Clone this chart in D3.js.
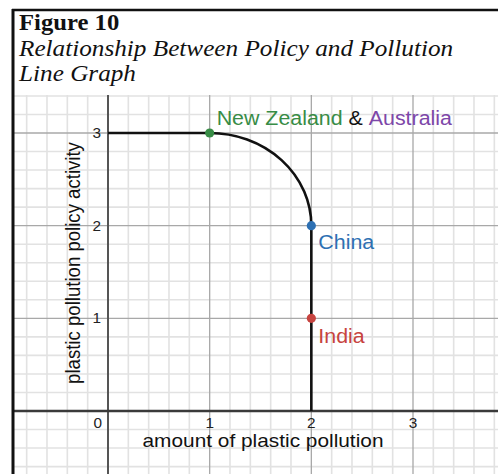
<!DOCTYPE html>
<html>
<head>
<meta charset="utf-8">
<script src="https://cdn.jsdelivr.net/npm/d3@7"></script>
<style>
  body { margin: 0; background: #fff; }
  svg { display: block; }
</style>
</head>
<body>
<div id="wrapper"></div>
<script>
// data
const xTickValues = [1, 2, 3]
const yTickValues = [1, 2, 3]
const originLabel = "0"

// line: straight, quarter ellipse, straight
const curvePoints = [[0, 3], [1, 3], [2, 2], [2, 0]]
const curveSegments = ["line", "arc", "line"]

const pointNames = ["New Zealand", "China", "India"]
const pointX = [1, 2, 2]
const pointY = [3, 2, 1]
const pointColors = ["#388c46", "#2d70b3", "#c74440"]

const titleLines = ["Figure 10", "Relationship Between Policy and Pollution", "Line Graph"]
const xAxisTitle = "amount of plastic pollution"
const yAxisTitle = "plastic pollution policy activity"

// 1. dimensions
const width = 498
const height = 474
const stretch = 1.097   // picture is stretched sideways
const plot = { left: 14, top: 95, right: 498, bottom: 474 }

const svg = d3.select("#wrapper")
  .append("svg")
    .attr("width", width)
    .attr("height", height)

const x = d3.scaleLinear().domain([0, 3]).range([108, 413])
const y = d3.scaleLinear().domain([0, 3]).range([411, 133])

const sText = (sel, px, py) => sel.attr("transform", `translate(${px},${py}) scale(${stretch},1)`)

// 2. grid
svg.append("clipPath").attr("id", "plot-clip")
  .append("rect")
    .attr("x", plot.left).attr("y", plot.top)
    .attr("width", plot.right - plot.left).attr("height", plot.bottom - plot.top)

const grid = svg.append("g").attr("clip-path", "url(#plot-clip)")
const xMin = x.invert(plot.left), xMax = x.invert(plot.right)
const yMin = y.invert(plot.bottom), yMax = y.invert(plot.top)
const minorX = d3.range(Math.ceil(xMin * 5), Math.floor(xMax * 5) + 1).map(i => i / 5)
const minorY = d3.range(Math.ceil(yMin * 5), Math.floor(yMax * 5) + 1).map(i => i / 5)

grid.selectAll(".minor-x").data(minorX.filter(d => Math.abs(d - Math.round(d)) > 1e-6))
  .join("line")
    .attr("x1", d => x(d)).attr("x2", d => x(d))
    .attr("y1", plot.top).attr("y2", plot.bottom)
    .attr("stroke", "#e2e2e2").attr("stroke-width", 1.6)
grid.selectAll(".minor-y").data(minorY.filter(d => Math.abs(d - Math.round(d)) > 1e-6))
  .join("line")
    .attr("y1", d => y(d)).attr("y2", d => y(d))
    .attr("x1", plot.left).attr("x2", plot.right)
    .attr("stroke", "#e2e2e2").attr("stroke-width", 1.6)

grid.selectAll(".major-x").data(minorX.filter(d => Math.abs(d - Math.round(d)) < 1e-6 && d !== 0))
  .join("line")
    .attr("x1", d => x(d)).attr("x2", d => x(d))
    .attr("y1", plot.top).attr("y2", plot.bottom)
    .attr("stroke", "#a8a8a8").attr("stroke-width", 1.3)
grid.selectAll(".major-y").data(minorY.filter(d => Math.abs(d - Math.round(d)) < 1e-6 && d !== 0))
  .join("line")
    .attr("y1", d => y(d)).attr("y2", d => y(d))
    .attr("x1", plot.left).attr("x2", plot.right)
    .attr("stroke", "#a8a8a8").attr("stroke-width", 1.3)

// axes
grid.append("line")
    .attr("x1", x(0)).attr("x2", x(0))
    .attr("y1", plot.top).attr("y2", plot.bottom)
    .attr("stroke", "#555").attr("stroke-width", 2)
grid.append("line")
    .attr("y1", y(0)).attr("y2", y(0))
    .attr("x1", plot.left).attr("x2", plot.right)
    .attr("stroke", "#3a3a3a").attr("stroke-width", 2.6)

// tick labels
const tickFont = "'Liberation Sans', Arial, sans-serif"
xTickValues.forEach(v => {
  svg.append("text")
      .attr("text-anchor", "middle")
      .attr("font-family", tickFont).attr("font-size", 14).attr("fill", "#222")
      .text(v)
      .call(sText, x(v), y(0) + 17)
})
yTickValues.forEach(v => {
  svg.append("text")
      .attr("text-anchor", "end")
      .attr("font-family", tickFont).attr("font-size", 14).attr("fill", "#222")
      .text(v)
      .call(sText, x(0) - 7, y(v) + 5)
})
svg.append("text")
    .attr("text-anchor", "end")
    .attr("font-family", tickFont).attr("font-size", 14).attr("fill", "#222")
    .text(originLabel)
    .call(sText, x(0) - 6, y(0) + 17)

// axis titles
svg.append("text")
    .attr("text-anchor", "middle")
    .attr("font-family", tickFont).attr("font-size", 19).attr("fill", "#111")
    .text(xAxisTitle)
    .call(sText, 263, 447)
svg.append("text")
    .attr("text-anchor", "middle")
    .attr("font-family", tickFont).attr("font-size", 18.6).attr("fill", "#111")
    .attr("transform", `translate(80,263) scale(${stretch},1) rotate(-90)`)
    .text(yAxisTitle)

// 3. the line
let d = `M${x(curvePoints[0][0])},${y(curvePoints[0][1])}`
curveSegments.forEach((kind, i) => {
  const [a, b] = [curvePoints[i], curvePoints[i + 1]]
  if (kind === "line") d += `L${x(b[0])},${y(b[1])}`
  else {
    const rx = Math.abs(x(b[0]) - x(a[0]))
    const ry = Math.abs(y(b[1]) - y(a[1]))
    d += `A${rx},${ry} 0 0 1 ${x(b[0])},${y(b[1])}`
  }
})
svg.append("path")
    .attr("d", d)
    .attr("fill", "none")
    .attr("stroke", "#111")
    .attr("stroke-width", 2.6)

// points
svg.selectAll(".pt").data(pointNames)
  .join("circle")
    .attr("cx", (n, i) => x(pointX[i]))
    .attr("cy", (n, i) => y(pointY[i]))
    .attr("r", 4.6)
    .attr("fill", (n, i) => pointColors[i])

// point labels
const nz = svg.append("text")
    .attr("font-family", tickFont).attr("font-size", 19.5)
    .call(sText, x(pointX[0]) + 7, y(pointY[0]) - 8)
nz.append("tspan").attr("fill", pointColors[0]).text(pointNames[0] + " ")
nz.append("tspan").attr("fill", "#111").text("& ")
nz.append("tspan").attr("fill", "#7d47a9").text("Australia")

;[1, 2].forEach(i => {
  svg.append("text")
      .attr("font-family", tickFont).attr("font-size", 19.5)
      .attr("fill", pointColors[i])
      .text(pointNames[i])
      .call(sText, x(pointX[i]) + 7, y(pointY[i]) + (i === 1 ? 23 : 25))
})

// 4. frame and title
svg.append("line")
    .attr("x1", 12).attr("x2", width).attr("y1", 10).attr("y2", 10)
    .attr("stroke", "#111").attr("stroke-width", 2.5)
svg.append("line")
    .attr("x1", 13).attr("x2", 13).attr("y1", 9).attr("y2", height)
    .attr("stroke", "#111").attr("stroke-width", 3)

const serif = "'Liberation Serif', 'Times New Roman', serif"
svg.append("text")
    .attr("font-family", serif).attr("font-size", 22.5).attr("font-weight", "bold")
    .attr("fill", "#111")
    .text(titleLines[0])
    .call(sText, 19, 30)
svg.append("text")
    .attr("font-family", serif).attr("font-size", 23).attr("font-style", "italic")
    .attr("fill", "#111")
    .text(titleLines[1])
    .call(sText, 19, 55.5)
svg.append("text")
    .attr("font-family", serif).attr("font-size", 23).attr("font-style", "italic")
    .attr("fill", "#111")
    .text(titleLines[2])
    .call(sText, 19, 80.5)
</script>
</body>
</html>
